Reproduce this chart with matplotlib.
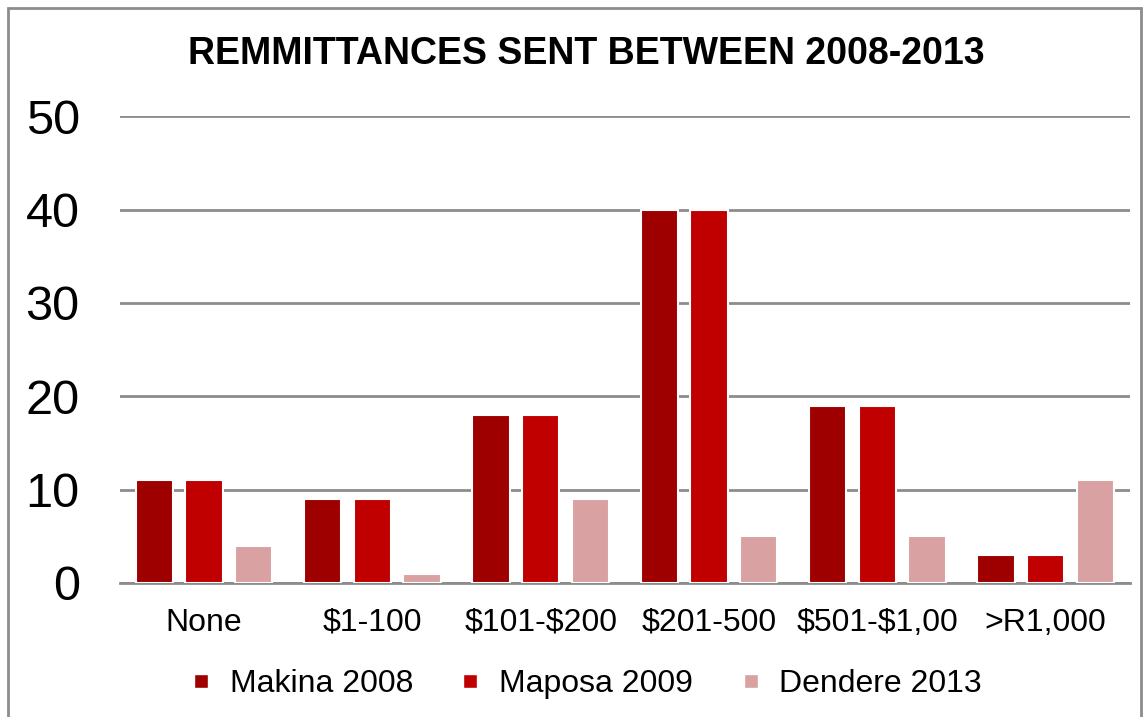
import matplotlib
matplotlib.use("Agg")
import matplotlib.pyplot as plt
import numpy as np
from matplotlib.patches import Rectangle

categories = ["None", "$1-100", "$101-$200", "$201-500", "$501-$1,00", ">R1,000"]
makina = [11, 9, 18, 40, 19, 3]
maposa = [11, 9, 18, 40, 19, 3]
dendere = [4, 1, 9, 5, 5, 11]
series = ["Makina 2008", "Maposa 2009", "Dendere 2013"]
colors = ["#9E0000", "#C00000", "#D9A1A1"]

plt.rcParams['font.family'] = ['Liberation Sans', 'DejaVu Sans']
plt.rcParams['text.parse_math'] = False

fig = plt.figure(figsize=(11.47, 7.17), dpi=100)
ax = fig.add_axes([0.1046, 0.187, 0.8804, 0.651])

x = np.arange(len(categories))
step = 0.295
for i, (vals, lab, c) in enumerate(zip([makina, maposa, dendere], series, colors)):
    ax.bar(x + (i - 1) * step, vals, width=0.222, color=c, label=lab, zorder=3,
           edgecolor='white', linewidth=1.5)

ax.set_xlim(-0.5, 5.5)
ax.set_ylim(0, 50)
ax.set_yticks(range(0, 51, 10))
ax.yaxis.grid(True, color='#8C8C8C', linewidth=2, zorder=0)
ax.set_axisbelow(True)
for s in ['top', 'right', 'left']:
    ax.spines[s].set_visible(False)
ax.spines['bottom'].set_color('#8C8C8C')
ax.spines['bottom'].set_linewidth(2)
ax.tick_params(axis='y', length=0, labelsize=35, pad=29)
ax.tick_params(axis='x', length=0, labelsize=23, pad=18)
ax.set_xticks(x)
ax.set_xticklabels(categories)

fig.text(0.511, 0.925, "REMMITTANCES SENT BETWEEN 2008-2013", ha='center', va='center',
         fontsize=27, fontweight='bold')

handles = [plt.Line2D([], [], marker='s', linestyle='none', markersize=10,
                      markerfacecolor=c, markeredgecolor='white') for c in colors]
fig.legend(handles, series, loc='center', bbox_to_anchor=(0.51, 0.046), ncol=3,
           frameon=False, fontsize=23, handletextpad=0.5, columnspacing=1.4,
           handlelength=0.8)

fig.patches.append(Rectangle((8 / 1147, -0.01), 1133 / 1147, 1 - 8 / 717 + 0.01,
                             transform=fig.transFigure, fill=False,
                             edgecolor='#8C8C8C', linewidth=2))

fig.savefig("out.png", dpi=100)
